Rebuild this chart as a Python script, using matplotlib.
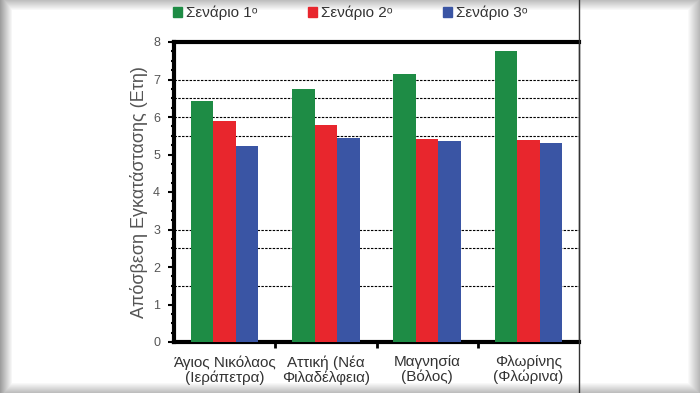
import numpy as np
import matplotlib
matplotlib.use("Agg")
import matplotlib.pyplot as plt
from matplotlib.patches import Patch
from matplotlib.lines import Line2D

# data
regions = ["Άγιος Νικόλαος\n(Ιεράπετρα)", "Αττική (Νέα\nΦιλαδέλφεια)",
           "Μαγνησία\n(Βόλος)", "Φλωρίνης\n(Φλώρινα)"]
scenario_1 = [6.42, 6.76, 7.16, 7.75]
scenario_2 = [5.89, 5.79, 5.42, 5.40]
scenario_3 = [5.22, 5.45, 5.36, 5.31]
series_names = ["Σενάριο 1ᵒ", "Σενάριο 2ᵒ", "Σενάριο 3ᵒ"]
grid_levels = [1.5, 2.5, 3, 5.5, 6, 6.5, 7]
y_ticks = [0, 1, 2, 3, 4, 5, 6, 7, 8]

colors = ["#1e8c45", "#e8262d", "#3a55a4"]
grey = "#555555"

plt.rcParams['font.family'] = ['Liberation Sans', 'DejaVu Sans']

fig = plt.figure(figsize=(7, 3.93), dpi=100)

# soft grey frame round the picture
bg = fig.add_axes([0, 0, 1, 1], zorder=-10)
h, w = 393, 700
yy, xx = np.mgrid[0:h, 0:w]
shade = np.zeros((h, w))
shade = np.maximum(shade, np.clip(1 - xx / 12.0, 0, 1) * 0.38)
shade = np.maximum(shade, np.clip((xx - 687) / 13.0, 0, 1) * 0.3)
shade = np.maximum(shade, np.clip((yy - 382) / 11.0, 0, 1) * 0.28)
shade = np.maximum(shade, np.clip(1 - yy / 10.0, 0, 1) * 0.25)
img = np.ones((h, w, 3)) * (1 - shade)[..., None]
bg.imshow(img, aspect='auto', extent=[0, 1, 0, 1])
bg.axis('off')

ax = fig.add_axes([174 / 700, 1 - 342 / 393, 405 / 700, 300 / 393])

x = np.arange(len(regions))
bw = 0.223
for i, vals in enumerate([scenario_1, scenario_2, scenario_3]):
    ax.bar(x + (i - 1) * bw, vals, width=bw, color=colors[i], zorder=3)

for g in grid_levels:
    ax.axhline(g, color='black', lw=0.8, dashes=(2.2, 1.2), zorder=1)

ax.set_xlim(-0.5, len(regions) - 0.5)
ax.set_ylim(0, 8)
ax.set_yticks(y_ticks)
ax.set_yticks(np.arange(0, 8.01, 0.25), minor=True)
ax.set_xticks(x[:-1] + 0.5)
ax.set_xticklabels([])
for xi, lab in zip(x, regions):
    ax.text(xi, -0.35, lab, ha='center', va='top', fontsize=11,
            color='#333333', linespacing=1.05)

ax.tick_params(axis='y', which='major', direction='out', length=4, width=1.5,
               labelsize=9, labelcolor=grey, pad=6)
ax.tick_params(axis='y', which='minor', direction='out', length=2, width=1.5)
ax.tick_params(axis='x', which='major', direction='out', length=4, width=2)

for s in ['left', 'top', 'bottom']:
    ax.spines[s].set_linewidth(3)
ax.spines['right'].set_linewidth(1)
ax.spines['right'].set_color('#333333')

ax.set_ylabel("Απόσβεση Εγκατάστασης (Ετη)", fontsize=13, color=grey, labelpad=4)

# full-height thin line at the right
fig.add_artist(Line2D([579 / 700, 579 / 700], [0, 1], color='#333333', lw=1))

handles = [Patch(color=c) for c in colors]
fig.legend(handles, series_names, loc='center', bbox_to_anchor=(350 / 700, 1 - 13 / 393),
           ncol=3, frameon=False, handlelength=0.6, handleheight=0.6,
           handletextpad=0.25, columnspacing=3.3, labelcolor='#333333',
           prop={'family': ['Liberation Sans', 'DejaVu Sans'], 'size': 11})

fig.savefig("out.png", dpi=100)
